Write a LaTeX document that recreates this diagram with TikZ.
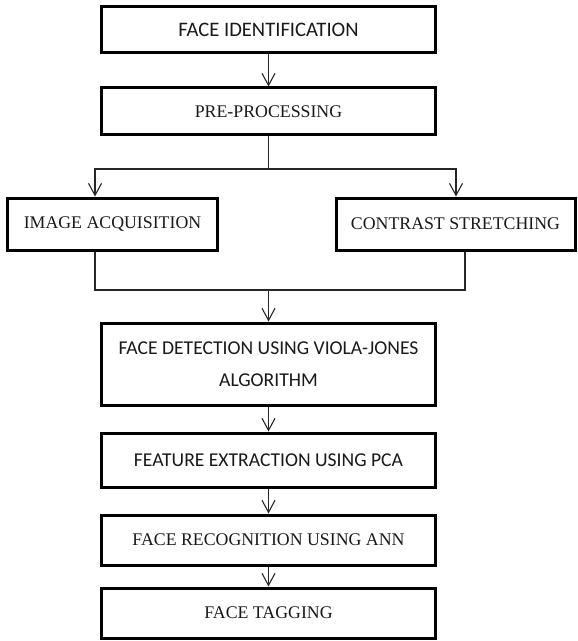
\documentclass[tikz,border=0pt]{standalone}
\usepackage{fontspec}
\setmainfont{Liberation Serif}
\newfontfamily\calibfont{Carlito}
\usetikzlibrary{arrows.meta}
\tikzset{
  box/.style={draw=black, line width=3bp, inner sep=0pt, align=center, text=black!90},
  serifbox/.style={box, font=\fontsize{17.8bp}{21bp}\selectfont},
  sansbox/.style={box, font=\calibfont\fontsize{19.6bp}{32bp}\selectfont},
  conn/.style={line width=1.1bp, draw=black!85},
  arr/.style={conn, -{Straight Barb[length=12bp,width=13bp,line width=1.1bp]}}
}
\begin{document}
\begin{tikzpicture}[x=1bp,y=-1bp]
\useasboundingbox (0,0) rectangle (578,641);
\node[sansbox, font=\calibfont\fontsize{20.6bp}{32bp}\selectfont, minimum width=333bp, minimum height=46bp] (b1) at (268.5,30) {FACE IDENTIFICATION};
\node[serifbox, minimum width=333bp, minimum height=47bp] (b2) at (268.5,111.5) {PRE-PROCESSING};
\node[serifbox, minimum width=209bp, minimum height=52bp] (b3) at (112.5,224) {IMAGE ACQUISITION};
\node[serifbox, minimum width=239bp, minimum height=52bp] (b4) at (455.5,224) {CONTRAST STRETCHING};
\node[sansbox, minimum width=333bp, minimum height=82bp] (b5) at (268.5,364) {FACE DETECTION USING VIOLA-JONES\\ALGORITHM};
\node[sansbox, minimum width=333bp, minimum height=54bp] (b6) at (268.5,460) {FEATURE EXTRACTION USING PCA};
\node[serifbox, minimum width=333bp, minimum height=50bp] (b7) at (268.5,540) {FACE RECOGNITION USING ANN};
\node[serifbox, minimum width=333bp, minimum height=50bp] (b8) at (268.5,613) {FACE TAGGING};
\coordinate (la) at (95,169);
\coordinate (ra) at (456,169);
\coordinate (lb) at (95,290);
\coordinate (rb) at (465,290);
\draw[arr] (b1.south) -- (b2.north);
\draw[arr] (b2.south) |- (la) -- (la |- b3.north);
\draw[arr] (b2.south) |- (ra) -- (ra |- b4.north);
\draw[conn] (lb |- b3.south) -- (lb) -- (rb) -- (rb |- b4.south);
\draw[arr] (b5.north |- lb) -- (b5.north);
\draw[arr] (b5.south) -- (b6.north);
\draw[arr] (b6.south) -- (b7.north);
\draw[arr] (b7.south) -- (b8.north);
\end{tikzpicture}
\end{document}
